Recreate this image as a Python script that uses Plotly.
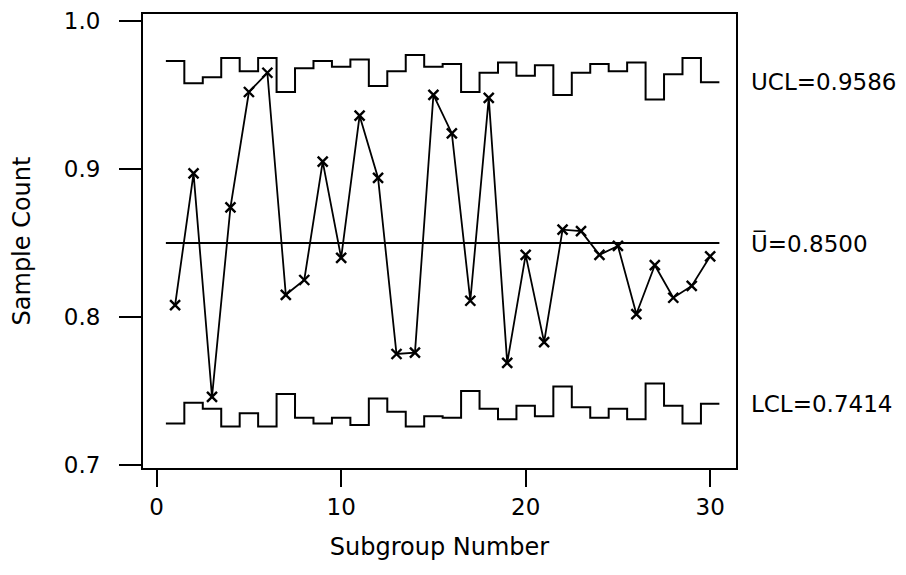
import plotly.graph_objects as go

# --- data ---
subgroup = list(range(1, 31))
sample_count = [0.808, 0.897, 0.746, 0.874, 0.952, 0.965, 0.815, 0.825, 0.905, 0.840,
                0.936, 0.894, 0.775, 0.776, 0.950, 0.924, 0.811, 0.948, 0.769, 0.842,
                0.783, 0.859, 0.858, 0.842, 0.848, 0.802, 0.835, 0.813, 0.821, 0.841]
ucl = [0.973, 0.958, 0.962, 0.975, 0.966, 0.975, 0.952, 0.968, 0.973, 0.969,
       0.974, 0.956, 0.966, 0.977, 0.969, 0.971, 0.952, 0.965, 0.972, 0.963,
       0.970, 0.950, 0.965, 0.971, 0.966, 0.972, 0.947, 0.964, 0.975, 0.9586]
lcl = [0.728, 0.742, 0.738, 0.726, 0.735, 0.726, 0.748, 0.732, 0.728, 0.732,
       0.727, 0.745, 0.736, 0.726, 0.733, 0.732, 0.750, 0.738, 0.731, 0.740,
       0.733, 0.753, 0.739, 0.732, 0.738, 0.731, 0.755, 0.740, 0.728, 0.7414]
center = 0.85
x_ticks = [0, 10, 20, 30]
y_ticks = [0.7, 0.8, 0.9, 1.0]

FONT = "DejaVu Sans"

# step limits: each subgroup's limit spans subgroup-0.5 .. subgroup+0.5
def steps(vals):
    xs, ys = [], []
    for s, v in zip(subgroup, vals):
        xs += [s - 0.5, s + 0.5]
        ys += [v, v]
    return xs, ys

fig = go.Figure()

ux, uy = steps(ucl)
lx, ly = steps(lcl)
fig.add_trace(go.Scatter(x=ux, y=uy, mode="lines", line=dict(color="black", width=2),
                         showlegend=False, hoverinfo="skip"))
fig.add_trace(go.Scatter(x=lx, y=ly, mode="lines", line=dict(color="black", width=2),
                         showlegend=False, hoverinfo="skip"))

# center line
fig.add_trace(go.Scatter(x=[subgroup[0] - 0.5, subgroup[-1] + 0.5], y=[center, center],
                         mode="lines", line=dict(color="black", width=2.2),
                         showlegend=False, hoverinfo="skip"))

# data
fig.add_trace(go.Scatter(x=subgroup, y=sample_count, mode="lines+markers",
                         line=dict(color="black", width=1.8),
                         marker=dict(symbol="x-thin", size=10, line=dict(color="black", width=2.4)),
                         showlegend=False))

# limit labels on the right
labels = [(ucl[-1], "UCL=0.9586"), (center, "U\u0305=0.8500"), (lcl[-1], "LCL=0.7414")]
for yv, txt in labels:
    fig.add_annotation(x=1, xref="paper", y=yv, yref="y", text=txt, showarrow=False,
                       xanchor="left", yanchor="middle", xshift=13,
                       font=dict(family=FONT, size=23, color="black"))

fig.update_xaxes(range=[-0.74, 31.4], tickvals=x_ticks, ticks="outside", ticklen=17,
                 tickwidth=1.5, tickcolor="black", showline=True, linecolor="black",
                 linewidth=2, mirror=True, showgrid=False, zeroline=False,
                 tickfont=dict(family=FONT, size=23, color="black"),
                 title=dict(text="Subgroup Number", standoff=20,
                            font=dict(family=FONT, size=24, color="black")))
fig.update_yaxes(range=[0.698, 1.0047], tickvals=y_ticks, tickformat=".1f", ticks="outside",
                 ticklen=22, tickwidth=1.5, tickcolor="black", showline=True,
                 linecolor="black", linewidth=2, mirror=True, showgrid=False, zeroline=False,
                 ticklabelstandoff=14,
                 tickfont=dict(family=FONT, size=23, color="black"),
                 title=dict(text="Sample Count", standoff=27,
                            font=dict(family=FONT, size=24, color="black")))

# the page body has an 8px margin, so the figure is sized to sit inside the window
fig.update_layout(width=898, height=567, plot_bgcolor="white", paper_bgcolor="white",
                  margin=dict(l=135, r=170, t=6, b=107, autoexpand=False))

fig.write_html("out.html")
